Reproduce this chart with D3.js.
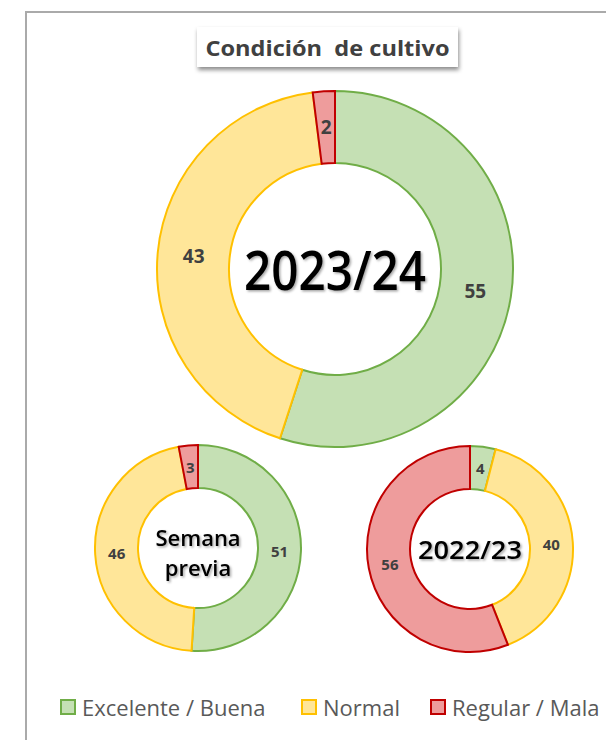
<!DOCTYPE html>
<html lang="es">
<head>
    <meta charset="UTF-8">
    <script src="https://d3js.org/d3.v7.min.js"></script>
    <title>Condición de cultivo</title>
    <style>
        body { margin: 0; background: #fff; }
        svg { display: block; font-family: "Open Sans", "Noto Sans", sans-serif; }
        .lbl { fill: #404040; font-weight: bold; text-anchor: middle; dominant-baseline: central; }
        .center { fill: #000; text-anchor: middle; dominant-baseline: central; }
    </style>
</head>
<body>
    <div id="chart"></div>
    <script>
        // Data
        var categories = ["Excelente / Buena", "Normal", "Regular / Mala"];
        var campaigns = ["2023/24", "Semana previa", "2022/23"];
        var valores2324 = [55, 43, 2];
        var valoresSemana = [51, 46, 3];
        var valores2223 = [4, 40, 56];

        var fills = ["#c5e0b4", "#ffe699", "#ee9c9c"];
        var strokes = ["#70ad47", "#ffc000", "#c00000"];

        var svg = d3.select("#chart")
            .append("svg")
            .attr("width", 606)
            .attr("height", 740);

        var defs = svg.append("defs");
        var sh = defs.append("filter").attr("id", "boxShadow")
            .attr("x", "-10%").attr("y", "-20%").attr("width", "125%").attr("height", "160%");
        sh.append("feDropShadow").attr("dx", 1).attr("dy", 3).attr("stdDeviation", 2)
            .attr("flood-color", "#000").attr("flood-opacity", 0.45);
        var ts = defs.append("filter").attr("id", "textShadow");
        ts.append("feDropShadow").attr("dx", 1.5).attr("dy", 1.5).attr("stdDeviation", 1)
            .attr("flood-color", "#000").attr("flood-opacity", 0.35);

        // Frame (cut off on the right and bottom)
        svg.append("path")
            .attr("d", "M26,740 L26,12 L606,12")
            .attr("fill", "none")
            .attr("stroke", "#aaaaaa")
            .attr("stroke-width", 2);

        // Title box
        svg.append("rect")
            .attr("x", 197).attr("y", 27)
            .attr("width", 261).attr("height", 40)
            .attr("fill", "#fff")
            .attr("filter", "url(#boxShadow)");
        svg.append("text")
            .attr("x", 327.5).attr("y", 47)
            .attr("text-anchor", "middle")
            .attr("dominant-baseline", "central")
            .attr("fill", "#404040")
            .attr("font-weight", "bold")
            .attr("font-size", 22)
            .attr("textLength", 244)
            .attr("lengthAdjust", "spacingAndGlyphs")
            .style("white-space", "pre")
            .text("Condición  de cultivo");

        var pie = d3.pie().sort(null).value(function (d) { return d; });

        function donut(values, cx, cy, rOut, rIn, fontSize, centerLines, centerSize, lineGap, centerLen, dy) {
            var g = svg.append("g").attr("transform", "translate(" + cx + "," + cy + ")");
            var arc = d3.arc().innerRadius(rIn).outerRadius(rOut);
            var lblArc = d3.arc().innerRadius((rIn + rOut) / 2).outerRadius((rIn + rOut) / 2);
            var arcs = pie(values);

            g.selectAll("path")
                .data(arcs)
                .enter().append("path")
                .attr("d", arc)
                .attr("fill", function (d, i) { return fills[i]; })
                .attr("stroke", function (d, i) { return strokes[i]; })
                .attr("stroke-width", 2);

            g.selectAll("text.lbl")
                .data(arcs)
                .enter().append("text")
                .attr("class", "lbl")
                .attr("transform", function (d) { return "translate(" + lblArc.centroid(d) + ")"; })
                .attr("font-size", fontSize)
                .text(function (d) { return d.data; });

            centerLines.forEach(function (t, i) {
                var txt = g.append("text")
                    .attr("class", "center")
                    .attr("x", 0)
                    .attr("y", dy + (i - (centerLines.length - 1) / 2) * lineGap)
                    .attr("font-size", centerSize)
                    .attr("font-weight", 600)
                    .attr("filter", "url(#textShadow)")
                    .text(t);
                if (centerLen) {
                    txt.attr("textLength", centerLen).attr("lengthAdjust", "spacingAndGlyphs");
                }
            });
        }

        donut(valores2324, 335, 269, 178, 106, 19, [campaigns[0]], 54, 0, 182, 0);
        donut(valoresSemana, 198, 548, 103, 60, 15, ["Semana", "previa"], 22, 30, null, 4);
        donut(valores2223, 470, 549, 103, 60, 15, [campaigns[2]], 25, 0, 104, 0);

        // Legend
        var legendX = [61, 302, 431];
        var leg = svg.append("g").selectAll("g")
            .data(categories)
            .enter().append("g")
            .attr("transform", function (d, i) { return "translate(" + legendX[i] + ",707)"; });
        leg.append("rect")
            .attr("x", 0).attr("y", -7)
            .attr("width", 14).attr("height", 14)
            .attr("fill", function (d, i) { return fills[i]; })
            .attr("stroke", function (d, i) { return strokes[i]; })
            .attr("stroke-width", 2);
        leg.append("text")
            .attr("x", 21).attr("y", 0)
            .attr("dominant-baseline", "central")
            .attr("fill", "#595959")
            .attr("font-size", 22)
            .text(function (d) { return d; });
    </script>
</body>
</html>
